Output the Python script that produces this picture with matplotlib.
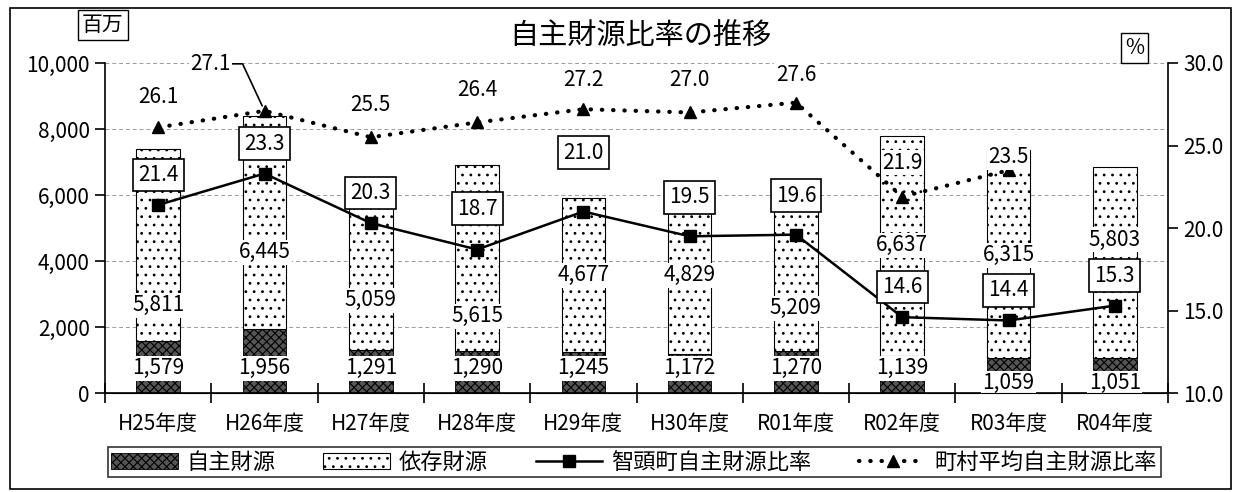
#!/usr/bin/env python3
"""Recreate the 自主財源比率の推移 chart (stacked bars + two ratio lines)."""

import numpy as np
import matplotlib.pyplot as plt
from matplotlib.patches import Rectangle

plt.rcParams['font.family'] = ['Noto Sans CJK JP', 'DejaVu Sans']
plt.rcParams['hatch.linewidth'] = 0.8

# ---- data ----
years = ['H25年度', 'H26年度', 'H27年度', 'H28年度', 'H29年度',
         'H30年度', 'R01年度', 'R02年度', 'R03年度', 'R04年度']
own_funds = [1579, 1956, 1291, 1290, 1245, 1172, 1270, 1139, 1059, 1051]        # 自主財源
dep_funds = [5811, 6445, 5059, 5615, 4677, 4829, 5209, 6637, 6315, 5803]        # 依存財源
chizu_ratio = [21.4, 23.3, 20.3, 18.7, 21.0, 19.5, 19.6, 14.6, 14.4, 15.3]     # 智頭町
town_avg = [26.1, 27.1, 25.5, 26.4, 27.2, 27.0, 27.6, 21.9, 23.5, np.nan]      # 町村平均

# label placement (layout only, in data units / pixel offsets)
dep_label_y = [2667, 4270, 2818, 2333, 3575, 3575, 2575, 4485, 4180, 4640]
own_label_y = [757, 757, 757, 757, 757, 757, 757, 757, 300, 300]
chizu_off = [30, 30, 30, 41, 59, 39, 39, 30, 30, 30]
avg_off = [30, 0, 32, 32, 29, 32, 28, 34, 13, 0]

FS = 15

x = np.arange(len(years))
fig = plt.figure(figsize=(12.36, 4.92), dpi=100)
ax = fig.add_axes([0.085, 0.201, 0.86, 0.671])
ax2 = ax.twinx()

# bars
ax.bar(x, own_funds, width=0.41, color='#555555', edgecolor='black',
       hatch='xxxx', linewidth=0.6, label='自主財源', zorder=2)
ax.bar(x, dep_funds, width=0.41, bottom=own_funds, color='white',
       edgecolor='black', hatch='..', linewidth=0.8, label='依存財源', zorder=2)

ax.set_xlim(-0.5, len(years) - 0.5)
ax.set_ylim(0, 10000)
ax.set_yticks(np.arange(0, 10001, 2000))
ax.set_yticklabels([f'{v:,}' for v in range(0, 10001, 2000)], fontsize=FS)
ax.grid(axis='y', linestyle=(0, (4, 3)), color='#999999', linewidth=0.7, zorder=0)
ax.set_xticks(x)
ax.set_xticklabels(years, fontsize=FS)
ax.tick_params(axis='x', length=0, pad=14)
ax.set_xticks(np.arange(-0.5, len(years)), minor=True)
ax.tick_params(axis='x', which='minor', length=14, direction='inout', width=1.2)
ax.tick_params(axis='y', length=7, width=1.2, direction='out', pad=4)
ax.spines['top'].set_visible(False)
ax2.spines['top'].set_visible(False)
ax.spines['left'].set_linewidth(1.2)
ax.spines['bottom'].set_linewidth(1.2)
ax.spines['right'].set_visible(False)
ax2.spines['left'].set_visible(False)
ax2.spines['right'].set_linewidth(1.2)

# ratio lines
ax2.set_ylim(10, 30)
ax2.set_yticks(np.arange(10, 30.1, 5))
ax2.set_yticklabels([f'{v:.1f}' for v in np.arange(10, 30.1, 5)], fontsize=FS)
ax2.tick_params(axis='y', length=7, width=1.2, direction='out', pad=4)
ax2.plot(x, chizu_ratio, '-', color='black', linewidth=1.8, marker='s',
         markersize=9, label='智頭町自主財源比率', zorder=4)
ax2.plot(x, town_avg, linestyle=(0, (0.1, 2.6)), dash_capstyle='round',
         color='black', linewidth=3, marker='^', markersize=9,
         label='町村平均自主財源比率', zorder=4)

# value labels
for i in x:
    ax.text(i, dep_label_y[i], f'{dep_funds[i]:,}', ha='center', va='center',
            fontsize=FS, zorder=5,
            bbox=dict(facecolor='white', edgecolor='none', pad=1))
    ax.text(i, own_label_y[i], f'{own_funds[i]:,}', ha='center', va='center',
            fontsize=FS, zorder=5,
            bbox=dict(facecolor='white', edgecolor='none', pad=1))
    ax2.annotate(f'{chizu_ratio[i]:.1f}', (i, chizu_ratio[i]),
                 xytext=(0, chizu_off[i]), textcoords='offset pixels',
                 ha='center', va='center', fontsize=FS, zorder=6,
                 bbox=dict(boxstyle='square,pad=0.25', facecolor='white',
                           edgecolor='black', linewidth=1.2))
    if np.isnan(town_avg[i]):
        continue
    if i == 1:
        # 27.1 sits off to the left with a leader line
        ax2.annotate(f'{town_avg[i]:.1f}', (i, town_avg[i]),
                     xytext=(-54, 47), textcoords='offset pixels',
                     ha='center', va='center', fontsize=FS, zorder=6,
                     bbox=dict(facecolor='white', edgecolor='none', pad=1),
                     arrowprops=dict(arrowstyle='-', color='black', lw=1.2,
                                     shrinkA=0, shrinkB=4,
                                     connectionstyle='angle,angleA=0,angleB=115,rad=0'))
    else:
        ax2.annotate(f'{town_avg[i]:.1f}', (i, town_avg[i]),
                     xytext=(0, avg_off[i]), textcoords='offset pixels',
                     ha='center', va='center', fontsize=FS, zorder=6,
                     bbox=dict(facecolor='white', edgecolor='none', pad=1))

# title and unit boxes
fig.text(0.518, 0.925, '自主財源比率の推移', ha='center', va='center', fontsize=21)
fig.text(0.083, 0.949, '百万', ha='center', va='center', fontsize=15,
         bbox=dict(boxstyle='square,pad=0.2', facecolor='white',
                   edgecolor='black', linewidth=1.0))
fig.text(0.918, 0.903, '%', ha='center', va='center', fontsize=15,
         bbox=dict(boxstyle='square,pad=0.2', facecolor='white',
                   edgecolor='black', linewidth=1.0))

# legend
h1, l1 = ax.get_legend_handles_labels()
h2, l2 = ax2.get_legend_handles_labels()
leg = fig.legend(h1 + h2, l1 + l2, loc='lower left', ncol=4,
                 bbox_to_anchor=(0.078, 0.008, 0.87, 0.07), mode='expand',
                 fontsize=16, frameon=True, fancybox=False, edgecolor='black',
                 handlelength=3.0, handletextpad=0.4, borderpad=0.15,
                 columnspacing=0.8)
leg.get_frame().set_linewidth(1.2)

# outer border
fig.patches.append(Rectangle((0.008, 0.006), 0.988, 0.978, transform=fig.transFigure,
                             fill=False, edgecolor='black', linewidth=1.2))

fig.savefig('out.png', dpi=100)
